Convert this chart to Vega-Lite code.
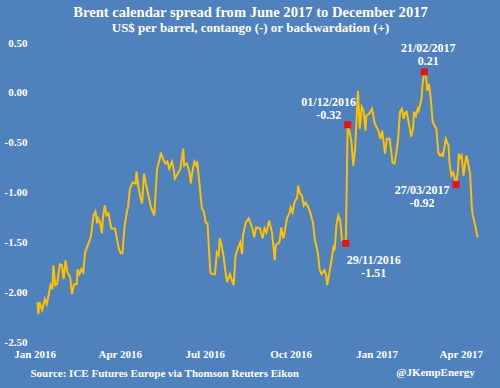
{
  "$schema": "https://vega.github.io/schema/vega-lite/v6.json",
  "width": 455,
  "height": 299,
  "autosize": {"type": "none"},
  "padding": {"left": 30, "top": 43, "right": 15, "bottom": 46},
  "background": "#4F81BD",
  "config": {"view": {"stroke": null}, "font": "Liberation Serif"},
  "title": {
    "text": "Brent calendar spread from June 2017 to December 2017",
    "subtitle": "US$ per barrel, contango (-) or backwardation (+)",
    "color": "white", "subtitleColor": "white",
    "font": "Liberation Serif", "subtitleFont": "Liberation Serif",
    "fontSize": 14.6, "fontWeight": "bold",
    "subtitleFontSize": 13, "subtitleFontWeight": "bold",
    "anchor": "middle", "frame": "group", "dx": -7, "offset": 2, "subtitlePadding": 2
  },
  "datasets": {
    "spread": [
      {"date":"2016-01-04","value":-2.10},{"date":"2016-01-05","value":-2.22},{"date":"2016-01-06","value":-2.10},{"date":"2016-01-09","value":-2.18},{"date":"2016-01-12","value":-2.07},{"date":"2016-01-14","value":-2.12},{"date":"2016-01-18","value":-1.93},{"date":"2016-01-20","value":-1.97},{"date":"2016-01-21","value":-1.73},{"date":"2016-01-23","value":-1.93},{"date":"2016-01-25","value":-1.92},{"date":"2016-01-28","value":-1.72},{"date":"2016-01-30","value":-1.73},
      {"date":"2016-02-01","value":-1.87},{"date":"2016-02-03","value":-1.68},{"date":"2016-02-05","value":-1.80},{"date":"2016-02-08","value":-1.85},{"date":"2016-02-10","value":-2.02},{"date":"2016-02-12","value":-1.92},{"date":"2016-02-15","value":-1.92},{"date":"2016-02-16","value":-1.77},{"date":"2016-02-18","value":-1.82},{"date":"2016-02-20","value":-1.77},{"date":"2016-02-22","value":-1.80},{"date":"2016-02-24","value":-1.60},{"date":"2016-02-28","value":-1.50},
      {"date":"2016-03-01","value":-1.45},{"date":"2016-03-04","value":-1.23},{"date":"2016-03-06","value":-1.19},{"date":"2016-03-08","value":-1.31},{"date":"2016-03-09","value":-1.26},{"date":"2016-03-11","value":-1.30},{"date":"2016-03-13","value":-1.41},{"date":"2016-03-14","value":-1.26},{"date":"2016-03-16","value":-1.13},{"date":"2016-03-18","value":-1.23},{"date":"2016-03-20","value":-1.21},{"date":"2016-03-23","value":-1.36},{"date":"2016-03-27","value":-1.36},{"date":"2016-03-31","value":-1.56},
      {"date":"2016-04-02","value":-1.61},{"date":"2016-04-04","value":-1.61},{"date":"2016-04-06","value":-1.36},{"date":"2016-04-08","value":-1.23},{"date":"2016-04-10","value":-1.14},{"date":"2016-04-12","value":-0.96},{"date":"2016-04-15","value":-0.90},{"date":"2016-04-18","value":-0.91},{"date":"2016-04-19","value":-0.79},{"date":"2016-04-21","value":-0.94},{"date":"2016-04-23","value":-1.04},{"date":"2016-04-25","value":-1.11},{"date":"2016-04-27","value":-0.81},{"date":"2016-04-29","value":-0.91},
      {"date":"2016-05-02","value":-1.04},{"date":"2016-05-04","value":-1.13},{"date":"2016-05-05","value":-1.16},{"date":"2016-05-08","value":-1.23},{"date":"2016-05-11","value":-0.76},{"date":"2016-05-14","value":-0.66},{"date":"2016-05-15","value":-0.60},{"date":"2016-05-18","value":-0.68},{"date":"2016-05-20","value":-0.71},{"date":"2016-05-22","value":-0.69},{"date":"2016-05-24","value":-0.76},{"date":"2016-05-27","value":-0.69},{"date":"2016-05-29","value":-0.78},{"date":"2016-05-30","value":-0.86},
      {"date":"2016-06-01","value":-0.83},{"date":"2016-06-05","value":-0.76},{"date":"2016-06-08","value":-0.56},{"date":"2016-06-09","value":-0.73},{"date":"2016-06-12","value":-0.71},{"date":"2016-06-15","value":-0.81},{"date":"2016-06-16","value":-0.91},{"date":"2016-06-18","value":-0.78},{"date":"2016-06-20","value":-0.69},{"date":"2016-06-22","value":-0.73},{"date":"2016-06-23","value":-0.69},{"date":"2016-06-25","value":-0.88},{"date":"2016-06-28","value":-1.16},{"date":"2016-06-30","value":-1.19},
      {"date":"2016-07-02","value":-1.30},{"date":"2016-07-04","value":-1.31},{"date":"2016-07-07","value":-1.80},{"date":"2016-07-09","value":-1.82},{"date":"2016-07-12","value":-1.82},{"date":"2016-07-14","value":-1.60},{"date":"2016-07-16","value":-1.63},{"date":"2016-07-17","value":-1.46},{"date":"2016-07-19","value":-1.53},{"date":"2016-07-21","value":-1.63},{"date":"2016-07-23","value":-1.78},{"date":"2016-07-25","value":-1.90},{"date":"2016-07-26","value":-1.87},{"date":"2016-07-28","value":-1.82},{"date":"2016-07-30","value":-1.88},
      {"date":"2016-08-01","value":-1.93},{"date":"2016-08-03","value":-1.63},{"date":"2016-08-06","value":-1.55},{"date":"2016-08-08","value":-1.50},{"date":"2016-08-10","value":-1.62},{"date":"2016-08-11","value":-1.43},{"date":"2016-08-14","value":-1.30},{"date":"2016-08-17","value":-1.26},{"date":"2016-08-19","value":-1.31},{"date":"2016-08-21","value":-1.36},{"date":"2016-08-23","value":-1.45},{"date":"2016-08-25","value":-1.35},{"date":"2016-08-29","value":-1.36},
      {"date":"2016-09-01","value":-1.46},{"date":"2016-09-03","value":-1.36},{"date":"2016-09-05","value":-1.40},{"date":"2016-09-08","value":-1.28},{"date":"2016-09-10","value":-1.36},{"date":"2016-09-11","value":-1.40},{"date":"2016-09-14","value":-1.68},{"date":"2016-09-15","value":-1.53},{"date":"2016-09-19","value":-1.50},{"date":"2016-09-21","value":-1.35},{"date":"2016-09-23","value":-1.46},{"date":"2016-09-24","value":-1.43},{"date":"2016-09-27","value":-1.26},{"date":"2016-09-30","value":-1.20},
      {"date":"2016-10-01","value":-1.15},{"date":"2016-10-03","value":-1.20},{"date":"2016-10-05","value":-1.10},{"date":"2016-10-08","value":-1.05},{"date":"2016-10-09","value":-0.93},{"date":"2016-10-11","value":-1.01},{"date":"2016-10-13","value":-1.03},{"date":"2016-10-15","value":-1.13},{"date":"2016-10-17","value":-1.10},{"date":"2016-10-20","value":-1.15},{"date":"2016-10-22","value":-1.20},{"date":"2016-10-25","value":-1.31},{"date":"2016-10-27","value":-1.48},{"date":"2016-10-30","value":-1.60},
      {"date":"2016-11-01","value":-1.77},{"date":"2016-11-03","value":-1.82},{"date":"2016-11-06","value":-1.78},{"date":"2016-11-08","value":-1.83},{"date":"2016-11-09","value":-1.93},{"date":"2016-11-11","value":-1.83},{"date":"2016-11-14","value":-1.66},{"date":"2016-11-16","value":-1.53},{"date":"2016-11-17","value":-1.58},{"date":"2016-11-19","value":-1.33},{"date":"2016-11-21","value":-1.23},{"date":"2016-11-23","value":-1.28},{"date":"2016-11-25","value":-1.48},{"date":"2016-11-27","value":-1.48},{"date":"2016-11-29","value":-1.51},
      {"date":"2016-12-01","value":-0.32},{"date":"2016-12-03","value":-0.39},{"date":"2016-12-05","value":-0.49},{"date":"2016-12-07","value":-0.73},{"date":"2016-12-09","value":-0.56},{"date":"2016-12-12","value":0.02},{"date":"2016-12-14","value":-0.36},{"date":"2016-12-16","value":-0.14},{"date":"2016-12-18","value":-0.18},{"date":"2016-12-20","value":-0.38},{"date":"2016-12-21","value":-0.23},{"date":"2016-12-24","value":-0.21},{"date":"2016-12-27","value":-0.16},{"date":"2016-12-30","value":-0.31},
      {"date":"2017-01-03","value":-0.38},{"date":"2017-01-05","value":-0.46},{"date":"2017-01-07","value":-0.38},{"date":"2017-01-10","value":-0.61},{"date":"2017-01-12","value":-0.46},{"date":"2017-01-15","value":-0.46},{"date":"2017-01-18","value":-0.70},{"date":"2017-01-20","value":-0.71},{"date":"2017-01-22","value":-0.61},{"date":"2017-01-24","value":-0.46},{"date":"2017-01-26","value":-0.19},{"date":"2017-01-28","value":-0.16},{"date":"2017-01-30","value":-0.26},{"date":"2017-01-31","value":-0.21},
      {"date":"2017-02-02","value":-0.19},{"date":"2017-02-04","value":-0.28},{"date":"2017-02-07","value":-0.44},{"date":"2017-02-09","value":-0.36},{"date":"2017-02-10","value":-0.19},{"date":"2017-02-12","value":-0.23},{"date":"2017-02-14","value":-0.16},{"date":"2017-02-15","value":-0.18},{"date":"2017-02-18","value":-0.06},{"date":"2017-02-19","value":0.07},{"date":"2017-02-21","value":0.21},{"date":"2017-02-23","value":0.16},{"date":"2017-02-24","value":0.02},{"date":"2017-02-26","value":0.09},{"date":"2017-02-28","value":-0.06},
      {"date":"2017-03-02","value":-0.29},{"date":"2017-03-04","value":-0.33},{"date":"2017-03-06","value":-0.36},{"date":"2017-03-08","value":-0.60},{"date":"2017-03-10","value":-0.63},{"date":"2017-03-12","value":-0.61},{"date":"2017-03-13","value":-0.64},{"date":"2017-03-16","value":-0.46},{"date":"2017-03-19","value":-0.53},{"date":"2017-03-20","value":-0.70},{"date":"2017-03-22","value":-0.83},{"date":"2017-03-24","value":-0.80},{"date":"2017-03-27","value":-0.92},{"date":"2017-03-29","value":-0.78},{"date":"2017-03-30","value":-0.61},{"date":"2017-03-31","value":-0.66},
      {"date":"2017-04-02","value":-0.63},{"date":"2017-04-04","value":-0.83},{"date":"2017-04-07","value":-0.63},{"date":"2017-04-08","value":-0.66},{"date":"2017-04-11","value":-0.81},{"date":"2017-04-13","value":-1.16},{"date":"2017-04-14","value":-1.23},{"date":"2017-04-17","value":-1.35},{"date":"2017-04-19","value":-1.45}
    ],
    "events": [
      {"id":"a","date":"2016-11-29","value":-1.51,"label":"29/11/2016\n-1.51"},
      {"id":"b","date":"2016-12-01","value":-0.32,"label":"01/12/2016\n-0.32"},
      {"id":"c","date":"2017-02-21","value":0.21,"label":"21/02/2017\n0.21"},
      {"id":"d","date":"2017-03-27","value":-0.92,"label":"27/03/2017\n-0.92"}
    ],
    "credit": [{"text":"@JKempEnergy"}]
  },
  "layer": [
    {
      "data": {"name": "spread"},
      "mark": {"type": "line", "color": "#FFC000", "strokeWidth": 2},
      "encoding": {
        "x": {
          "field": "date", "type": "temporal",
          "scale": {"domain": [{"year":2015,"month":12,"date":27},{"year":2017,"month":4,"date":27}]},
          "axis": {
            "values": [{"year":2016,"month":1,"date":1},{"year":2016,"month":4,"date":1},{"year":2016,"month":7,"date":1},{"year":2016,"month":10,"date":1},{"year":2017,"month":1,"date":1},{"year":2017,"month":4,"date":1}],
            "format": "%b %Y", "domain": false, "ticks": false, "grid": false,
            "labelFlush": false, "labelOverlap": false,
            "labelColor": "white", "labelFont": "Liberation Serif", "labelFontSize": 11, "labelFontWeight": "bold", "labelPadding": 6,
            "title": "Source: ICE Futures Europe via Thomson Reuters Eikon",
            "titleColor": "white", "titleFont": "Liberation Serif", "titleFontSize": 11, "titleFontWeight": "bold",
            "titleAnchor": "start", "titlePadding": 8
          }
        },
        "y": {
          "field": "value", "type": "quantitative",
          "scale": {"domain": [-2.5, 0.5], "nice": false, "zero": false},
          "axis": {
            "values": [-2.5, -2, -1.5, -1, -0.5, 0, 0.5],
            "labelExpr": "datum.value < 0 ? '-' + format(-datum.value, '.2f') : format(datum.value, '.2f')",
            "domain": false, "ticks": false, "grid": false,
            "labelColor": "white", "labelFont": "Liberation Serif", "labelFontSize": 11, "labelFontWeight": "bold", "labelPadding": 3,
            "title": null
          }
        }
      }
    },
    {
      "data": {"name": "events"},
      "mark": {"type": "point", "shape": "square", "filled": true, "size": 50, "color": "#E8121A", "opacity": 1},
      "encoding": {
        "x": {"field": "date", "type": "temporal"},
        "y": {"field": "value", "type": "quantitative"}
      }
    },
    {
      "data": {"name": "events"},
      "transform": [{"filter": "datum.id == 'a'"}],
      "mark": {"type": "text", "lineBreak": "\n", "lineHeight": 13, "color": "white", "font": "Liberation Serif", "fontSize": 12, "fontWeight": "bold", "align": "center", "baseline": "middle", "dx": 28, "dy": 17},
      "encoding": {"x": {"field": "date", "type": "temporal"}, "y": {"field": "value", "type": "quantitative"}, "text": {"field": "label"}}
    },
    {
      "data": {"name": "events"},
      "transform": [{"filter": "datum.id == 'b'"}],
      "mark": {"type": "text", "lineBreak": "\n", "lineHeight": 13, "color": "white", "font": "Liberation Serif", "fontSize": 12, "fontWeight": "bold", "align": "center", "baseline": "middle", "dx": -19, "dy": -23},
      "encoding": {"x": {"field": "date", "type": "temporal"}, "y": {"field": "value", "type": "quantitative"}, "text": {"field": "label"}}
    },
    {
      "data": {"name": "events"},
      "transform": [{"filter": "datum.id == 'c'"}],
      "mark": {"type": "text", "lineBreak": "\n", "lineHeight": 13, "color": "white", "font": "Liberation Serif", "fontSize": 12, "fontWeight": "bold", "align": "center", "baseline": "middle", "dx": 4, "dy": -24},
      "encoding": {"x": {"field": "date", "type": "temporal"}, "y": {"field": "value", "type": "quantitative"}, "text": {"field": "label"}}
    },
    {
      "data": {"name": "events"},
      "transform": [{"filter": "datum.id == 'd'"}],
      "mark": {"type": "text", "lineBreak": "\n", "lineHeight": 13, "color": "white", "font": "Liberation Serif", "fontSize": 12, "fontWeight": "bold", "align": "center", "baseline": "middle", "dx": -34, "dy": 5},
      "encoding": {"x": {"field": "date", "type": "temporal"}, "y": {"field": "value", "type": "quantitative"}, "text": {"field": "label"}}
    },
    {
      "data": {"name": "credit"},
      "mark": {"type": "text", "color": "white", "font": "Liberation Serif", "fontSize": 11, "fontWeight": "bold", "align": "center", "baseline": "middle"},
      "encoding": {
        "x": {"datum": {"year":2017,"month":3,"date":5}, "type": "temporal"},
        "y": {"datum": -2.81, "type": "quantitative"},
        "text": {"field": "text"}
      }
    }
  ]
}
